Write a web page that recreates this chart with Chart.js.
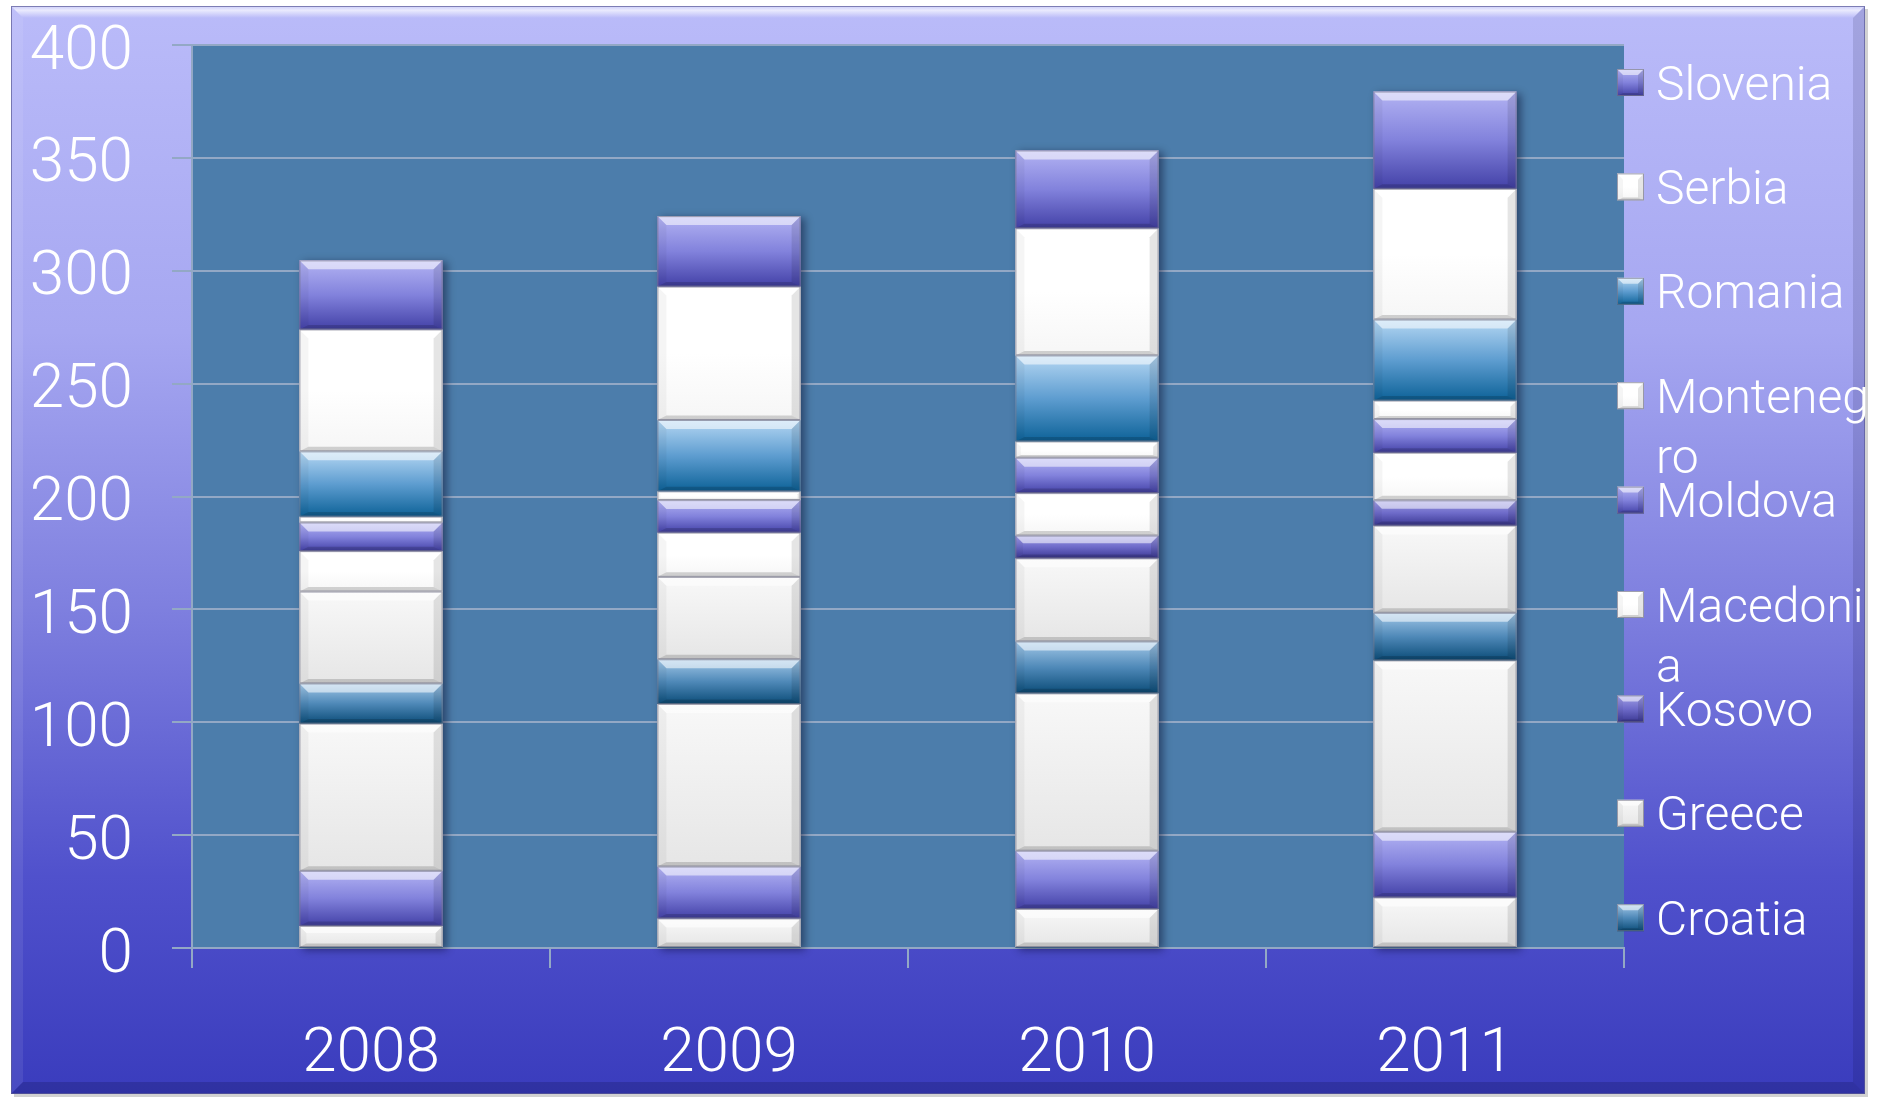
<!DOCTYPE html>
<html>
<head>
<meta charset="utf-8">
<script src="https://cdn.jsdelivr.net/npm/chart.js@4.4.1/dist/chart.umd.min.js"></script>
<style>
  html, body { margin: 0; padding: 0; background: #ffffff; overflow: hidden; }
  #chart { display: block; }
</style>
</head>
<body>
<canvas id="chart" width="1881" height="1097"></canvas>
<script>
// categories
const years = ['2008', '2009', '2010', '2011'];

// series, bottom of the stack first
const countries = ['Albania', 'Bosnia and Herzegovina', 'Bulgaria', 'Croatia', 'Greece', 'Kosovo',
                   'Macedonia', 'Moldova', 'Montenegro', 'Romania', 'Serbia', 'Slovenia'];
const albania    = [9.8, 13.1, 17.3, 22.4];
const bosnia     = [24.4, 23.0, 25.8, 29.1];
const bulgaria   = [65.2, 72.0, 69.7, 75.9];
const croatia    = [17.8, 19.8, 23.0, 21.1];
const greece     = [40.7, 36.5, 36.8, 38.6];
const kosovo     = [null, null, 10.1, 11.2];
const macedonia  = [17.9, 19.6, 18.8, 21.1];
const moldova    = [12.7, 14.4, 15.7, 14.9];
const montenegro = [2.6, 3.9, 7.2, 8.2];
const romania    = [28.9, 31.6, 38.1, 35.9];
const serbia     = [54.0, 59.1, 56.3, 57.9];
const slovenia   = [30.6, 31.2, 34.5, 43.1];
const seriesValues = [albania, bosnia, bulgaria, croatia, greece, kosovo,
                      macedonia, moldova, montenegro, romania, serbia, slovenia];

// y axis ticks
const yMin = 0, yMax = 400, yStep = 50;

// looks (top, middle, bottom of the gradient)
const looks = {
    purple:     ['#b3b3f3', '#8282dc', '#4341a7'],
    purpleDark: ['#a09ee6', '#6e6bc9', '#3a3792'],
    blue:       ['#b5d7f3', '#5e9dd0', '#0d6298'],
    blueDark:   ['#a3c8e8', '#4f89b8', '#0b4c78'],
    white:      ['#ffffff', '#ffffff', '#f6f6f6'],
    grey:       ['#f8f8f8', '#efefef', '#e6e6e6']
};
const seriesLook = ['grey', 'purple', 'grey', 'blueDark', 'grey', 'purpleDark',
                    'white', 'purple', 'white', 'blue', 'white', 'purple'];

const fontFamily = 'Roboto, "Open Sans", "Liberation Sans", sans-serif';
const gridColor = '#93a8c5';

function poly(ctx, pts, fill) {
    ctx.beginPath();
    ctx.moveTo(pts[0][0], pts[0][1]);
    for (let i = 1; i < pts.length; i++) ctx.lineTo(pts[i][0], pts[i][1]);
    ctx.closePath();
    ctx.fillStyle = fill;
    ctx.fill();
}

// bevelled box, like the glossy bars of the original
function drawBevelBox(ctx, L, T, R, B, look, maxBevel) {
    const w = R - L, h = B - T;
    if (h <= 0.5 || w <= 0) return;
    const g = ctx.createLinearGradient(0, T, 0, B);
    g.addColorStop(0, look[0]);
    g.addColorStop(0.5, look[1]);
    g.addColorStop(1, look[2]);
    ctx.fillStyle = g;
    ctx.fillRect(L, T, w, h);
    const b = Math.min(maxBevel, h / 3, w / 4);
    const bb = b * 0.5;
    poly(ctx, [[L, T], [R, T], [R - b, T + b], [L + b, T + b]], 'rgba(255,255,255,0.55)');
    poly(ctx, [[L, T], [L + b, T + b], [L + b, B - bb], [L, B]], 'rgba(0,0,0,0.04)');
    poly(ctx, [[R, T], [R, B], [R - b, B - bb], [R - b, T + b]], 'rgba(0,0,0,0.10)');
    poly(ctx, [[L, B], [L + b, B - bb], [R - b, B - bb], [R, B]], 'rgba(0,0,0,0.16)');
    ctx.strokeStyle = 'rgba(120,120,140,0.7)';
    ctx.lineWidth = 1;
    ctx.strokeRect(L + 0.5, T + 0.5, w - 1, h - 1);
}

function wrapText(ctx, text, maxW) {
    const lines = [];
    let cur = '';
    for (const ch of text) {
        if (cur && ctx.measureText(cur + ch).width > maxW) {
            lines.push(cur);
            cur = ch;
        } else {
            cur += ch;
        }
    }
    lines.push(cur);
    return lines;
}

// purple panel behind everything + steel blue plot area
const backgroundPlugin = {
    id: 'panelBackground',
    beforeDraw(chart) {
        const ctx = chart.ctx;
        const area = chart.chartArea;
        const L = 11, T = 6, R = 1865, B = 1094;
        ctx.save();
        ctx.fillStyle = '#ffffff';
        ctx.fillRect(0, 0, chart.width, chart.height);

        // soft shadow of the panel
        ctx.fillStyle = 'rgba(0,0,0,0.18)';
        ctx.fillRect(L + 3, T + 3, R - L, B - T);

        const g = ctx.createLinearGradient(0, T, 0, B);
        g.addColorStop(0, '#babbf9');
        g.addColorStop(0.3, '#a6a7f1');
        g.addColorStop(0.55, '#7f80df');
        g.addColorStop(0.8, '#5051cc');
        g.addColorStop(1, '#3a3cbd');
        ctx.fillStyle = g;
        ctx.fillRect(L, T, R - L, B - T);

        const b = 12;
        const top = ctx.createLinearGradient(0, T, 0, T + b);
        top.addColorStop(0, 'rgba(255,255,255,0.25)');
        top.addColorStop(0.35, 'rgba(255,255,255,0.7)');
        top.addColorStop(1, 'rgba(255,255,255,0)');
        poly(ctx, [[L, T], [R, T], [R - b, T + b], [L + b, T + b]], top);
        poly(ctx, [[L, T], [L + b, T + b], [L + b, B - b], [L, B]], 'rgba(255,255,255,0.08)');
        poly(ctx, [[R, T], [R, B], [R - b, B - b], [R - b, T + b]], 'rgba(0,0,40,0.12)');
        poly(ctx, [[L, B], [L + b, B - b], [R - b, B - b], [R, B]], 'rgba(0,0,40,0.18)');
        ctx.strokeStyle = 'rgba(90,90,150,0.7)';
        ctx.lineWidth = 1;
        ctx.strokeRect(L + 0.5, T + 0.5, R - L - 1, B - T - 1);

        ctx.fillStyle = '#4c7dab';
        ctx.fillRect(area.left, area.top, area.right - area.left, area.bottom - area.top);
        ctx.restore();
    },
    beforeDatasetsDraw(chart) {
        // drop shadow of each stack
        const ctx = chart.ctx;
        const yScale = chart.scales.y;
        const first = chart.getDatasetMeta(0).data;
        ctx.save();
        ctx.shadowColor = 'rgba(0,0,30,0.45)';
        ctx.shadowBlur = 8;
        ctx.shadowOffsetX = 4;
        ctx.shadowOffsetY = 2;
        ctx.fillStyle = '#3f5f80';
        first.forEach((el, i) => {
            let total = 0;
            seriesValues.forEach(s => { total += s[i] || 0; });
            const top = yScale.getPixelForValue(total);
            const base = yScale.getPixelForValue(0);
            ctx.fillRect(el.x - el.width / 2, top, el.width, base - top);
        });
        ctx.restore();
    },
    afterDatasetsDraw(chart) {
        const ctx = chart.ctx;
        ctx.save();
        chart.data.datasets.forEach((ds, d) => {
            const meta = chart.getDatasetMeta(d);
            meta.data.forEach((el, i) => {
                if (ds.data[i] == null) return;
                const p = el.getProps(['x', 'y', 'base', 'width'], true);
                const T = Math.min(p.y, p.base), B = Math.max(p.y, p.base);
                drawBevelBox(ctx, p.x - p.width / 2, T, p.x + p.width / 2, B, looks[seriesLook[d]], 9);
            });
        });
        ctx.restore();
    },
    afterDraw(chart) {
        // legend on the right, top of the stack first, as far as it fits
        const ctx = chart.ctx;
        const area = chart.chartArea;
        const size = 27;
        const boxX = area.right - 7;
        const textX = area.right + 32;
        const maxW = 220;
        let cy = area.top + 37.5;
        ctx.save();
        ctx.font = '300 48px ' + fontFamily;
        ctx.textBaseline = 'alphabetic';
        ctx.textAlign = 'left';
        for (let d = countries.length - 1; d >= 0; d--) {
            if (cy > area.bottom) break;
            drawBevelBox(ctx, boxX, cy - size / 2, boxX + size, cy + size / 2, looks[seriesLook[d]], 6);
            ctx.fillStyle = '#ffffff';
            wrapText(ctx, countries[d], maxW).forEach((ln, k) => {
                ctx.fillText(ln, textX, cy + 17 + k * 60);
            });
            cy += 104.4;
        }
        ctx.restore();
    }
};

const datasets = countries.map((name, d) => ({
    label: name,
    data: seriesValues[d],
    backgroundColor: looks[seriesLook[d]][1],
    borderWidth: 0,
    barPercentage: 0.4,
    categoryPercentage: 1.0
}));

const tickFont = { family: fontFamily, size: 62, weight: 300 };

new Chart(document.getElementById('chart'), {
    type: 'bar',
    data: { labels: years, datasets: datasets },
    options: {
        responsive: false,
        animation: false,
        devicePixelRatio: 1,
        layout: { padding: { top: 45, right: 257, bottom: 0, left: 0 } },
        plugins: {
            legend: { display: false },
            tooltip: { enabled: false }
        },
        scales: {
            x: {
                stacked: true,
                grid: { drawOnChartArea: false, drawTicks: true, tickLength: 20, color: gridColor, lineWidth: 2, offset: true },
                border: { color: gridColor, width: 2 },
                ticks: { color: '#ffffff', font: tickFont, padding: 50 },
                afterFit(scale) { scale.height = 149; }
            },
            y: {
                stacked: true,
                min: yMin,
                max: yMax,
                ticks: { stepSize: yStep, color: '#ffffff', font: tickFont, padding: 39, labelOffset: 8 },
                grid: { color: gridColor, lineWidth: 2, tickLength: 20 },
                border: { color: gridColor, width: 2 },
                afterFit(scale) {
                    scale.width = 192;
                    scale.paddingTop = 0;
                    scale.paddingBottom = 0;
                }
            }
        }
    },
    plugins: [backgroundPlugin]
});
</script>
</body>
</html>
